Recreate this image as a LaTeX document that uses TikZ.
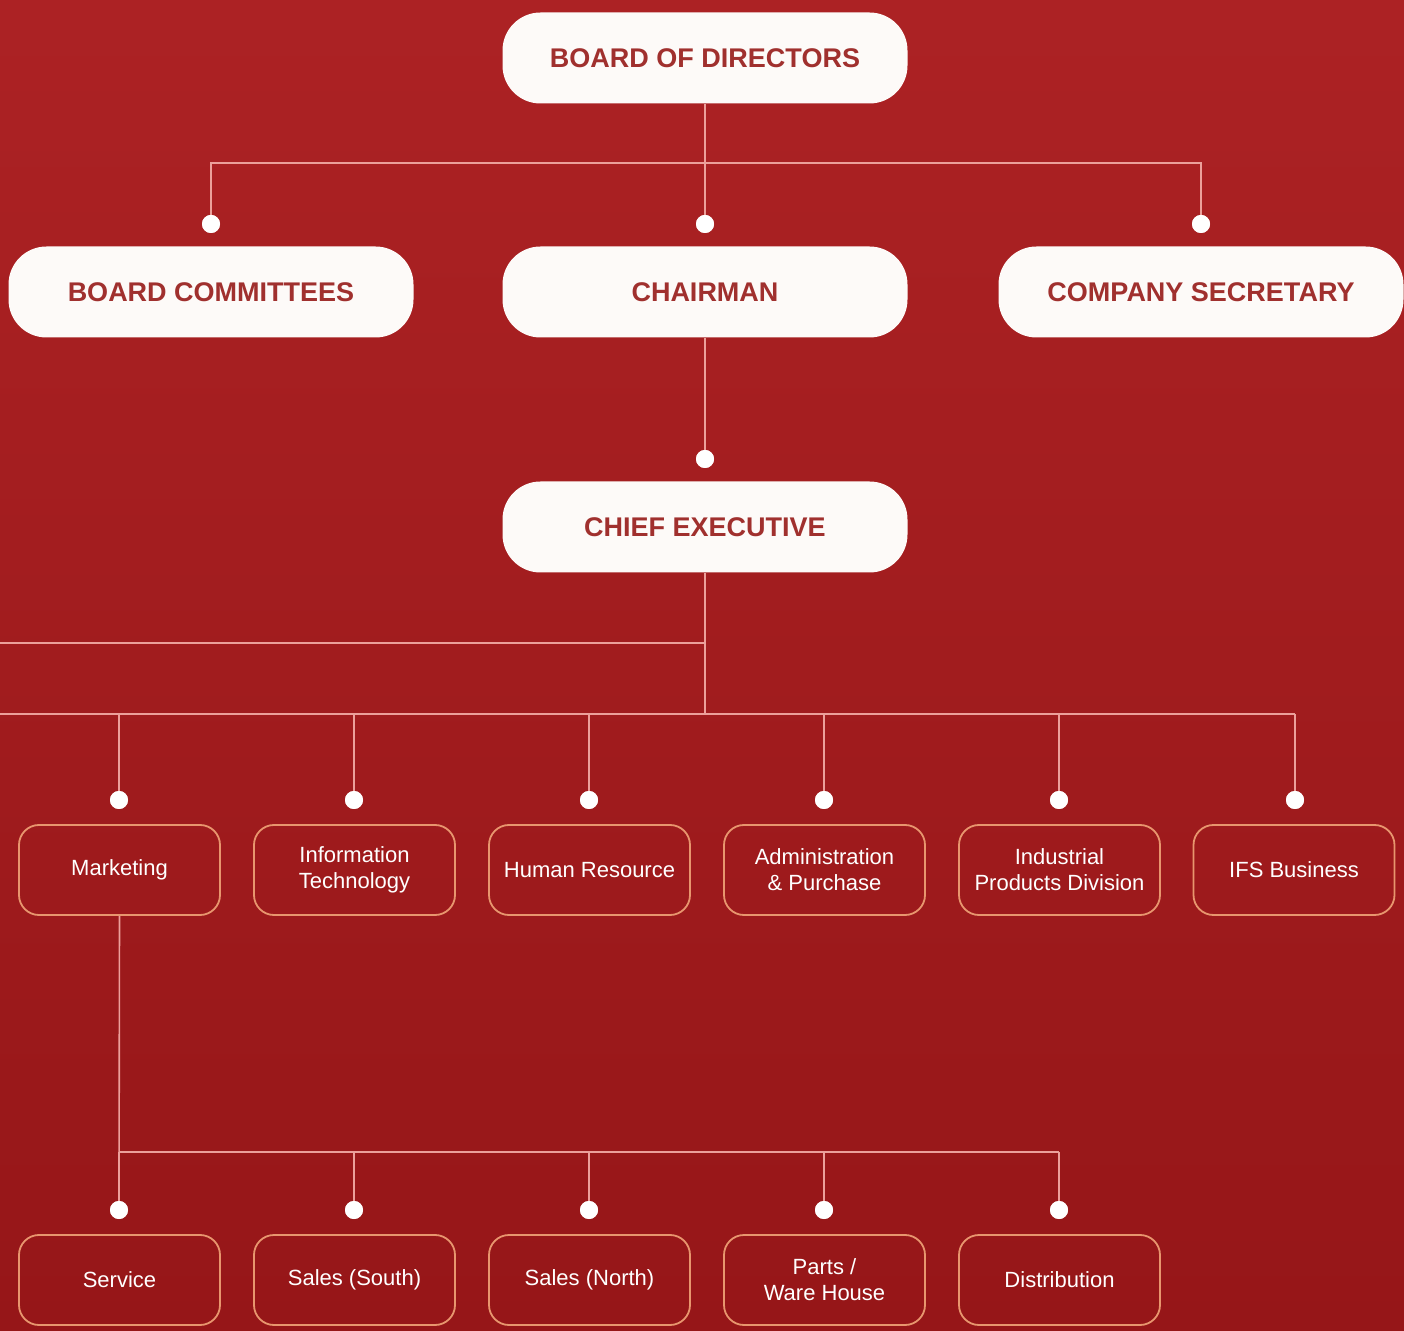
\documentclass[tikz,border=0pt]{standalone}
\usepackage{fontspec}
\setmainfont{Liberation Sans}
\definecolor{bgtop}{RGB}{172,34,36}
\definecolor{bgbot}{RGB}{150,22,24}
\definecolor{pilltext}{RGB}{160,48,46}
\definecolor{pillfill}{RGB}{253,250,248}
\definecolor{linec}{RGB}{236,160,155}
\definecolor{boxline}{RGB}{232,150,110}
\begin{document}
\begin{tikzpicture}[x=0.5pt,y=-0.5pt,
  pill/.style={draw=none,fill=pillfill,rounded corners=19pt,minimum width=202.5pt,minimum height=45.5pt,
    font=\fontsize{13.5}{16}\selectfont\bfseries,text=pilltext,inner sep=0pt},
  unit/.style={draw=boxline,line width=0.9pt,rounded corners=10pt,minimum width=100.5pt,minimum height=45pt,
    font=\fontsize{11}{13}\selectfont,text=white,align=center,inner sep=0pt},
  dot/.style={circle,fill=white,draw=none,minimum size=9pt,inner sep=0pt},
  conn/.style={draw=linec,line width=0.8pt}]
\shade[top color=bgtop,bottom color=bgbot] (0,0) rectangle (1404,1331);
\useasboundingbox (0,0) rectangle (1404,1331);
% top level
\node[pill] (bod) at (705,58) {BOARD OF DIRECTORS};
\node[pill] (bc) at (211,292) {BOARD COMMITTEES};
\node[pill] (ch) at (705,292) {CHAIRMAN};
\node[pill] (cs) at (1201,292) {COMPANY SECRETARY};
\node[pill] (ce) at (705,527) {CHIEF EXECUTIVE};
% dots level 1
\node[dot] (d1) at (211,224) {};
\node[dot] (d2) at (705,224) {};
\node[dot] (d3) at (1201,224) {};
\node[dot] (d4) at (705,459) {};
\coordinate (bar1) at (705,163);
\draw[conn] (bod.south) -- (bar1);
\draw[conn] (bar1) -| (d1.center);
\draw[conn] (bar1) -| (d3.center);
\draw[conn] (bar1) -- (d2.center);
\draw[conn] (ch.south) -- (d4.center);
% chief exec
\coordinate (bar2) at (705,714);
\coordinate (lft1) at (0,643);
\coordinate (lft2) at (0,714);
\draw[conn] (ce.south) -- (bar2);
\draw[conn] (lft1) -- (lft1 -| ce.south);
% departments
\node[unit] (m1) at (119.5,870) {Marketing};
\node[unit] (m2) at (354.5,870) {Information\\Technology};
\node[unit] (m3) at (589.5,870) {Human Resource};
\node[unit] (m4) at (824.5,870) {Administration\\\& Purchase};
\node[unit] (m5) at (1059.5,870) {Industrial\\Products Division};
\node[unit] (m6) at (1294,870) {IFS Business};
\foreach \i/\x in {1/119,2/354,3/589,4/824,5/1059,6/1295}{
  \node[dot] (p\i) at (\x,800) {};
  \draw[conn] (p\i.center) -- (p\i.center |- bar2);
}
\draw[conn] (lft2) -- (p6.center |- bar2);
% sub-units
\node[unit] (s1) at (119.5,1280) {Service};
\node[unit] (s2) at (354.5,1280) {Sales (South)};
\node[unit] (s3) at (589.5,1280) {Sales (North)};
\node[unit] (s4) at (824.5,1280) {Parts /\\Ware House};
\node[unit] (s5) at (1059.5,1280) {Distribution};
\coordinate (bar3) at (119,1152);
\foreach \i/\x in {1/119,2/354,3/589,4/824,5/1059}{
  \node[dot] (q\i) at (\x,1210) {};
  \draw[conn] (q\i.center) -- (q\i.center |- bar3);
}
\draw[conn] (m1.south) -- (q1.center);
\draw[conn] (bar3) -- (q5.center |- bar3);
% redraw dots on top
\foreach \n in {d1,d2,d3,d4,p1,p2,p3,p4,p5,p6,q1,q2,q3,q4,q5}{
  \fill[white] (\n) circle (4.5pt);
}
\end{tikzpicture}
\end{document}
